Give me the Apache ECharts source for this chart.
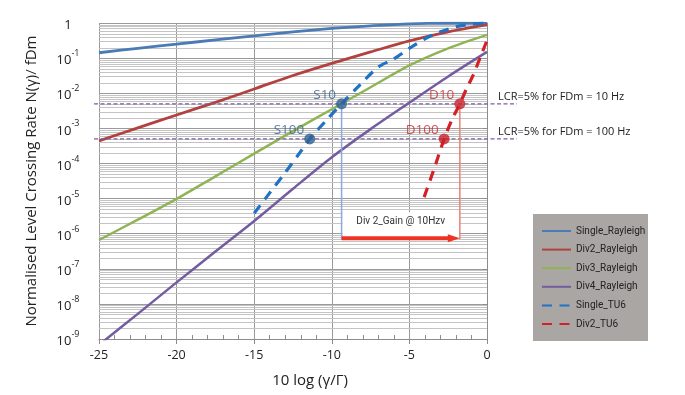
<!DOCTYPE html>
<html><head><meta charset="utf-8">
<script src="https://cdn.jsdelivr.net/npm/echarts@6/dist/echarts.min.js"></script>
<style>html,body{margin:0;padding:0;background:#fff}#c{width:685px;height:395px}</style>
</head><body><div id="c"></div>
<script>
// ---- data ----
const xRayleigh = [-25, -22.5, -20, -17.5, -15, -12.5, -10, -7.5, -5, -2.5, 0];
const singleRayleigh = [0.142, 0.19, 0.25, 0.33, 0.43, 0.56, 0.70, 0.83, 0.95, 0.99, 0.97];
const div2Rayleigh = [4.4e-4, 1.03e-3, 2.4e-3, 5.5e-3, 0.0132, 0.032, 0.071, 0.15, 0.31, 0.56, 0.90];
const div3Rayleigh = [6.6e-7, 2.5e-6, 9.8e-6, 4.3e-5, 1.9e-4, 8.3e-4, 3.5e-3, 0.0148, 0.062, 0.19, 0.46];
const div4Rayleigh = [6.8e-10, 5.2e-9, 4.1e-8, 3.1e-7, 2.3e-6, 1.9e-5, 1.5e-4, 9.5e-4, 5.4e-3, 0.03, 0.15];

const xSingleTU6 = [-15, -14, -13, -12, -11.42, -10.4, -9.37, -8.2, -7, -6, -5, -4, -3, -2, -1, 0];
const singleTU6 = [3.8e-6, 1.45e-5, 5.5e-5, 2.2e-4, 5e-4, 1.6e-3, 5e-3, 0.017, 0.056, 0.095, 0.19, 0.355, 0.56, 0.78, 0.93, 1.0];
const xDiv2TU6 = [-4.05, -3.4, -2.76, -2.25, -1.75, -1.3, -0.9, -0.4, 0];
const div2TU6 = [1.1e-5, 7.2e-5, 5e-4, 1.8e-3, 5e-3, 0.014, 0.032, 0.115, 0.32];

const seriesNames = ['Single_Rayleigh', 'Div2_Rayleigh', 'Div3_Rayleigh', 'Div4_Rayleigh', 'Single_TU6', 'Div2_TU6'];

const markerNames = ['S10', 'S100', 'D10', 'D100'];
const markerX = [-9.37, -11.42, -1.75, -2.76];
const markerY = [5e-3, 5e-4, 5e-3, 5e-4];

const lcrLevels = [5e-3, 5e-4];
const lcrLabels = ['LCR=5% for FDm = 10 Hz', 'LCR=5% for FDm = 100 Hz'];
const gainLevel = 7.4e-7;
const gainLabel = 'Div 2_Gain @ 10Hzv';

const xTicks = { min: -25, max: 0, interval: 5 };
const yTicks = { min: 1e-9, max: 1 };
const xName = '10 log (\u03b3/\u0393)';
const yName = 'Normalised Level Crossing Rate N(\u03b3)/ fDm';

// ---- chart ----
const FONT = 'Open Sans';
const chart = echarts.init(document.getElementById('c'), null, { renderer: 'canvas' });

const colors = ['#4a7bb7', '#b2423e', '#8fb454', '#735ca0', '#1f72c4', '#d42027'];

function curve(name, xs, ys, color, dashed, width) {
  return {
    name, type: 'line', data: xs.map((x, i) => [x, ys[i]]), smooth: 0.3,
    symbol: 'none', showSymbol: false, z: 3, animation: false,
    lineStyle: { color, width, type: dashed ? [10, 7.5] : 'solid', cap: 'butt' },
    itemStyle: { color }, emphasis: { disabled: true }
  };
}

const option = {
  animation: false,
  grid: { left: 99, top: 23, right: 685 - 487, bottom: 395 - 339 },
  legend: {
    data: seriesNames, orient: 'vertical', left: 533, top: 214,
    padding: [12, 8, 12, 8], itemWidth: 29, itemHeight: 10, itemGap: 8.6,
    itemStyle: { opacity: 0 },
    textStyle: { fontFamily: 'Roboto', fontSize: 10, color: '#222', lineHeight: 10 },
    selectedMode: false
  },
  xAxis: [{
    type: 'value', min: xTicks.min, max: xTicks.max, interval: xTicks.interval, position: 'bottom',
    axisLine: { lineStyle: { color: '#8c8c8c' } },
    axisTick: { show: true, length: 5, lineStyle: { color: '#8c8c8c' } },
    axisLabel: { color: '#222', fontSize: 12.5, margin: 10, fontFamily: FONT },
    splitLine: { show: true, lineStyle: { color: '#9a9a9a' } }
  }, {
    type: 'value', min: xTicks.min, max: xTicks.max, interval: xTicks.interval, position: 'bottom',
    axisLine: { show: false }, axisTick: { show: false, inside: true }, axisLabel: { show: false },
    splitLine: { show: false },
    minorTick: { show: true, splitNumber: 5, length: 4, lineStyle: { color: '#8c8c8c' } }
  }],
  yAxis: {
    type: 'log', logBase: 10, min: yTicks.min, max: yTicks.max, interval: 1, splitNumber: 9,
    name: yName, nameLocation: 'middle', nameGap: 60,
    nameTextStyle: { fontFamily: FONT, fontSize: 15, color: '#222' },
    axisLine: { show: true, lineStyle: { color: '#8c8c8c' } },
    axisTick: { show: true, length: 4, lineStyle: { color: '#8c8c8c' } },
    splitLine: { show: true, lineStyle: { color: '#9a9a9a' } },
    axisLabel: {
      align: 'center', margin: 31,
      formatter: function (v) {
        const e = Math.round(Math.log10(v));
        return e === 0 ? '{b|1}' : '{b|10}{s|' + e + '}';
      },
      rich: {
        b: { fontFamily: FONT, fontSize: 13, color: '#222', lineHeight: 18, verticalAlign: 'bottom' },
        s: { fontFamily: FONT, fontSize: 9, color: '#222', lineHeight: 8, verticalAlign: 'top' }
      }
    }
  },
  series: [
    curve(seriesNames[0], xRayleigh, singleRayleigh, colors[0], false, 2.8),
    curve(seriesNames[1], xRayleigh, div2Rayleigh, colors[1], false, 2.8),
    curve(seriesNames[2], xRayleigh, div3Rayleigh, colors[2], false, 2.5),
    curve(seriesNames[3], xRayleigh, div4Rayleigh, colors[3], false, 2.5),
    curve(seriesNames[4], xSingleTU6, singleTU6, colors[4], true, 3.2),
    curve(seriesNames[5], xDiv2TU6, div2TU6, colors[5], true, 3.2),
    {
      name: 'points', type: 'scatter', z: 6, symbolSize: 11, animation: false,
      data: markerNames.map((n, i) => ({
        value: [markerX[i], markerY[i]], name: n,
        itemStyle: { color: n[0] === 'S' ? '#2f5f91' : '#c8202a' },
        label: { color: n[0] === 'S' ? '#345f90' : '#c9252c' }
      })),
      label: {
        show: true, position: 'left', distance: 1, offset: [1, -9],
        formatter: p => p.name, fontFamily: FONT, fontSize: 13.5
      },
      emphasis: { disabled: true }
    }
  ]
};
chart.setOption(option);

const cs = { xAxisIndex: 0, yAxisIndex: 0 };
const px = (x, y) => chart.convertToPixel(cs, [x, y]);
const left = px(xTicks.min, 1)[0];
const right = px(xTicks.max, 1)[0];
const els = [];

// minor log grid lines (2..9 within each decade)
for (let e = -9; e < 0; e++) {
  for (let k = 2; k <= 9; k++) {
    const y = Math.round(px(xTicks.min, k * Math.pow(10, e))[1]) + 0.5;
    els.push({ type: 'line', z: 1, silent: true, shape: { x1: left, y1: y, x2: right, y2: y },
      style: { stroke: '#c4c4c4', lineWidth: 1 } });
  }
}

// legend background
els.push({ type: 'rect', z: 3, silent: true, shape: { x: 533, y: 214, width: 115, height: 127 }, style: { fill: '#aaa6a4' } });

// LCR reference lines
lcrLevels.forEach((v, i) => {
  const y = px(xTicks.min, v)[1];
  els.push({ type: 'line', z: 4, silent: true, shape: { x1: left - 5, y1: y, x2: right + 30, y2: y },
    style: { stroke: '#7b5ea7', lineWidth: 1.2, lineDash: [4, 2.5] } });
  els.push({ type: 'text', z: 4, silent: true, x: right + 11, y: y - 7,
    style: { text: lcrLabels[i], fill: '#222', font: '11px "Open Sans"', align: 'left', verticalAlign: 'middle' } });
});

// gain annotation
const s10 = px(markerX[0], markerY[0]);
const d10 = px(markerX[2], markerY[2]);
const gy = px(markerX[0], gainLevel)[1];
els.push({ type: 'rect', z: 2, silent: true, shape: { x: s10[0] + 1, y: gy - 26, width: d10[0] - s10[0] - 1, height: 26 }, style: { fill: '#ffffff' } });
els.push({ type: 'line', z: 5, silent: true, shape: { x1: s10[0], y1: s10[1], x2: s10[0], y2: gy + 1 }, style: { stroke: '#8eaadb', lineWidth: 1.5 } });
els.push({ type: 'line', z: 5, silent: true, shape: { x1: d10[0], y1: d10[1], x2: d10[0], y2: gy + 1 }, style: { stroke: '#e8836f', lineWidth: 1.5 } });
els.push({ type: 'line', z: 5, silent: true, shape: { x1: s10[0], y1: gy, x2: d10[0] - 9, y2: gy }, style: { stroke: '#ee3224', lineWidth: 4 } });
els.push({ type: 'polygon', z: 5, silent: true, shape: { points: [[d10[0] - 12, gy - 4], [d10[0], gy], [d10[0] - 12, gy + 4]] }, style: { fill: '#ee3224' } });
els.push({ type: 'text', z: 5, silent: true, x: (s10[0] + d10[0]) / 2, y: gy - 17,
  style: { text: gainLabel, fill: '#333', font: '10px Roboto', align: 'center', verticalAlign: 'middle' } });

// x axis name
els.push({ type: 'text', z: 4, silent: true, x: (left + right) / 2 + 17, y: 381,
  style: { text: xName, fill: '#222', font: '15px "Open Sans"', align: 'center', verticalAlign: 'middle' } });

chart.setOption({ graphic: { elements: els } });
</script>
</body></html>
